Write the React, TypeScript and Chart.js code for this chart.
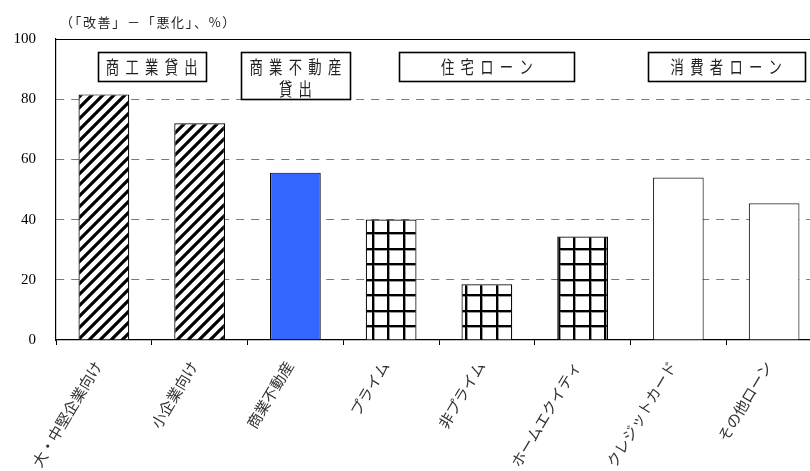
import React, { useEffect, useRef } from "react";
import { Chart, registerables } from "chart.js";

Chart.register(...registerables);

// 貸出基準の変化（「改善」－「悪化」、%）
const categories = [
  "大・中堅企業向け",
  "小企業向け",
  "商業不動産",
  "プライム",
  "非プライム",
  "ホームエクイティ",
  "クレジットカード",
  "その他ローン",
];
const values = [81.6, 72.0, 55.6, 40.0, 18.5, 34.4, 54.0, 45.4];
// which loan group each category belongs to
const categoryGroup = [0, 0, 1, 2, 2, 2, 3, 3];
const groupNames = [["商工業貸出"], ["商業不動産", "貸出"], ["住宅ローン"], ["消費者ローン"]];
const yTicks = [0, 20, 40, 60, 80, 100];
const unitLabel = "（「改善」－「悪化」、%）";

// box placement for the group captions (centre in category units, width in px)
const groupBoxCenter = [0.5, 2, 4, 6.5];
const groupBoxWidth = [108, 109, 175, 157];

const JP_FONT = '"Noto Sans CJK JP", "Noto Sans", sans-serif';

function makeHatch(): CanvasPattern | string {
  const s = 11;
  const c = document.createElement("canvas");
  c.width = s;
  c.height = s;
  const g = c.getContext("2d");
  if (!g) return "#fff";
  g.fillStyle = "#fff";
  g.fillRect(0, 0, s, s);
  g.strokeStyle = "#000";
  g.lineWidth = 3.2;
  g.beginPath();
  g.moveTo(-s / 2, s / 2);
  g.lineTo(s / 2, -s / 2);
  g.moveTo(0, s);
  g.lineTo(s, 0);
  g.moveTo(s / 2, s * 1.5);
  g.lineTo(s * 1.5, s / 2);
  g.stroke();
  return g.createPattern(c, "repeat") || "#fff";
}

function makeGrid(): CanvasPattern | string {
  const s = 31;
  const c = document.createElement("canvas");
  c.width = s;
  c.height = s;
  const g = c.getContext("2d");
  if (!g) return "#fff";
  g.fillStyle = "#fff";
  g.fillRect(0, 0, s, s);
  g.fillStyle = "#999";
  for (const p of [0, 15]) {
    g.fillRect(p + 2, 0, 1, s);
    g.fillRect(0, p + 2, s, 1);
  }
  g.fillStyle = "#000";
  for (const p of [0, 15]) {
    g.fillRect(p, 0, 2, s);
    g.fillRect(0, p, s, 2);
  }
  return g.createPattern(c, "repeat") || "#fff";
}

const framePlugin = {
  id: "frameAndCaptions",
  afterDraw(chart: any) {
    const { ctx, chartArea, scales } = chart;
    const xs = scales.x;
    ctx.save();

    // solid top frame at 100
    ctx.strokeStyle = "#000";
    ctx.lineWidth = 1;
    ctx.beginPath();
    ctx.moveTo(chartArea.left, chartArea.top + 0.5);
    ctx.lineTo(chartArea.right, chartArea.top + 0.5);
    ctx.stroke();

    // unit caption
    ctx.fillStyle = "#222";
    ctx.font = `13px ${JP_FONT}`;
    (ctx as any).letterSpacing = "1.7px";
    ctx.textAlign = "left";
    ctx.textBaseline = "middle";
    ctx.fillText(unitLabel, chartArea.left + 4, 22);
    (ctx as any).letterSpacing = "0px";

    // group caption boxes
    const boxTop = chartArea.top + 13.5;
    groupNames.forEach((lines, i) => {
      const cx = xs.getPixelForValue(groupBoxCenter[i]);
      const w = groupBoxWidth[i];
      const h = lines.length === 1 ? 29 : 47;
      const left = Math.round(cx - w / 2) + 0.5;
      ctx.fillStyle = "#fff";
      ctx.fillRect(left, boxTop, w, h);
      ctx.strokeStyle = "#000";
      ctx.lineWidth = 1.6;
      ctx.strokeRect(left, boxTop, w, h);

      ctx.fillStyle = "#222";
      lines.forEach((t, j) => {
        ctx.save();
        ctx.translate(cx, boxTop + 15 + j * 21.5);
        ctx.scale(0.74, 1);
        ctx.font = `18px ${JP_FONT}`;
        (ctx as any).letterSpacing = "8.5px";
        ctx.textAlign = "center";
        ctx.textBaseline = "middle";
        ctx.fillText(t, 4.25, 0);
        ctx.restore();
      });
    });

    ctx.restore();
  },
};

export default function App() {
  const ref = useRef<HTMLCanvasElement | null>(null);

  useEffect(() => {
    const canvas = ref.current;
    if (!canvas) return;
    const groupFills = [makeHatch(), "#3366FF", makeGrid(), "#ffffff"];
    const fills = categoryGroup.map((g) => groupFills[g]);
    const borders = categoryGroup.map((g) => (g === 3 ? "#333" : "#000"));

    const chart = new Chart(canvas, {
      type: "bar",
      data: {
        labels: categories,
        datasets: [
          {
            data: values,
            backgroundColor: fills as any,
            borderColor: borders,
            borderWidth: 1.2,
            barPercentage: 0.53,
            categoryPercentage: 1,
          },
        ],
      },
      options: {
        responsive: false,
        animation: false,
        devicePixelRatio: 1,
        layout: { padding: { top: 39, left: 0, right: 0, bottom: 0 } },
        plugins: {
          legend: { display: false },
          tooltip: { enabled: false },
        },
        scales: {
          x: {
            grid: {
              display: true,
              drawOnChartArea: false,
              drawTicks: true,
              tickLength: 5,
              color: "#000",
              offset: true,
            },
            border: { display: true, color: "#000", width: 1.2 },
            ticks: {
              autoSkip: false,
              minRotation: 59,
              maxRotation: 59,
              padding: 13,
              labelOffset: -6,
              color: "#333",
              font: { family: JP_FONT, size: 15 },
            },
            afterFit: (s: any) => {
              s.height = 131;
            },
          },
          y: {
            min: 0,
            max: 100,
            afterBuildTicks: (s: any) => {
              s.ticks = yTicks.map((v) => ({ value: v }));
            },
            ticks: {
              padding: 20,
              color: "#000",
              font: { family: '"Liberation Serif", serif', size: 15 },
            },
            grid: {
              drawTicks: false,
              lineWidth: 1,
              color: (c: any) =>
                c.tick && c.tick.value > 0 && c.tick.value < 100 ? "#7a7a7a" : "rgba(0,0,0,0)",
            },
            border: { display: true, color: "#000", width: 1.2, dash: [8, 7] },
            afterFit: (s: any) => {
              s.width = 56;
            },
          },
        },
      },
      plugins: [framePlugin],
    });

    return () => chart.destroy();
  }, []);

  return (
    <div
      style={{
        position: "fixed",
        left: 0,
        top: 0,
        width: 810,
        height: 471,
        overflow: "hidden",
        background: "#fff",
      }}
    >
      <canvas ref={ref} width={822} height={471} style={{ display: "block" }} />
    </div>
  );
}
